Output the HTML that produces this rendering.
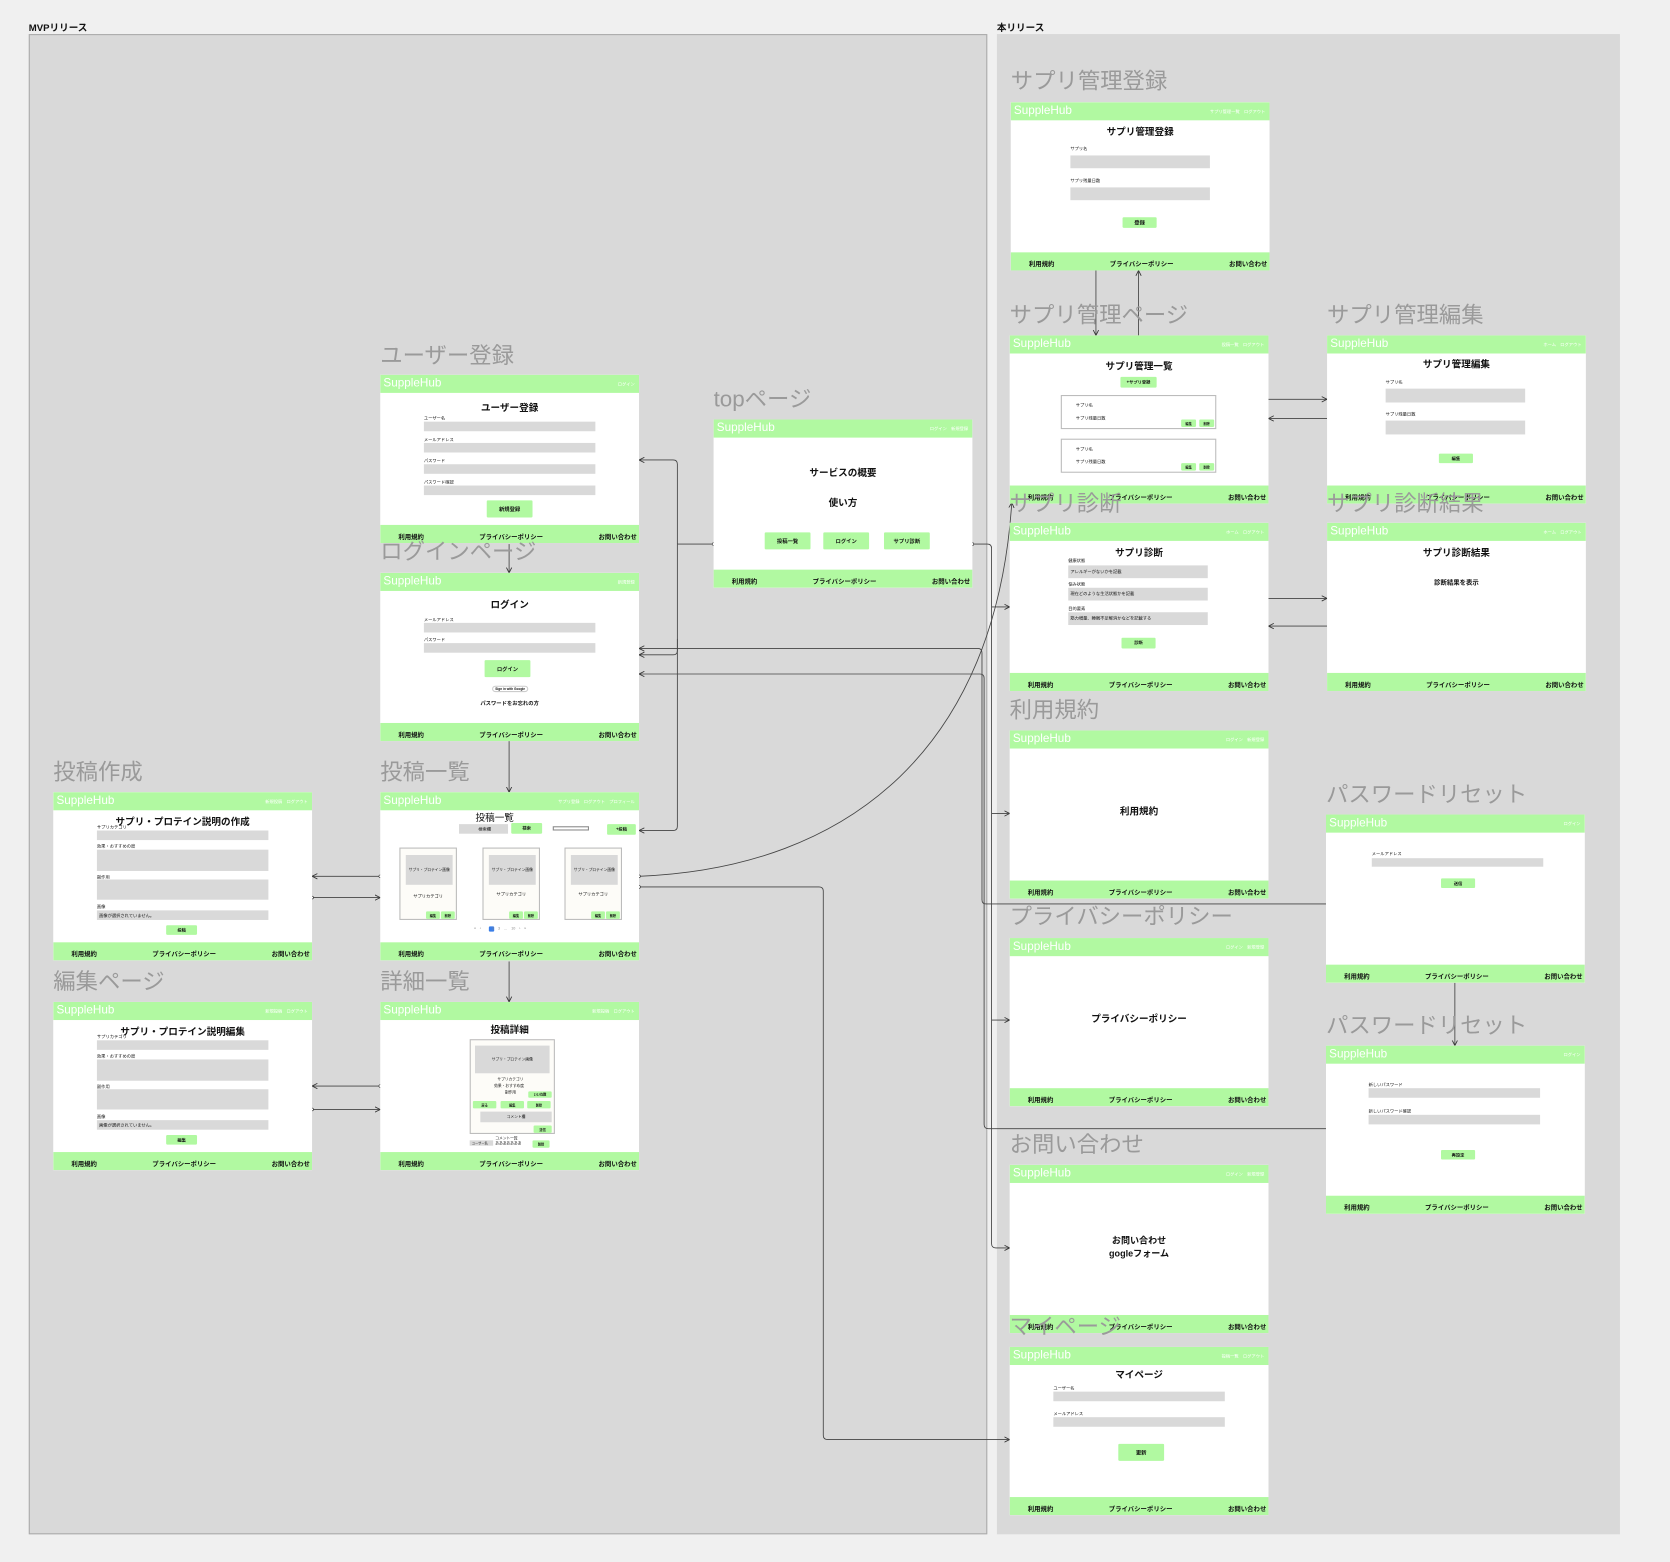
<!DOCTYPE html>
<html><head><meta charset="utf-8">
<style>
*{margin:0;padding:0;box-sizing:border-box}
html,body{width:1670px;height:1562px;overflow:hidden;background:#f0f0f0;font-family:"Liberation Sans","Noto Sans CJK JP",sans-serif;color:#111}
#w{position:absolute;left:0;top:0;width:1568px;height:1467px;transform:scale(1.06505,1.06476);transform-origin:0 0}
.p{position:absolute;background:#d9d9d9}
.pl{position:absolute;font-size:9px;font-weight:bold}
.tt{position:absolute;font-size:21px;line-height:22px;color:#9a9a9a;white-space:nowrap;z-index:5}
.c{position:absolute;width:243px;height:158px;background:#fff;overflow:hidden}
.h{position:absolute;left:0;top:0;width:100%;height:17px;background:#b1f9a1}
.h b{position:absolute;left:3px;top:2px;font-size:11px;line-height:12px;color:#fff;font-weight:normal}
.h i{position:absolute;right:4px;top:6px;font-size:4px;color:#fff;font-style:normal;white-space:nowrap}
.f{position:absolute;left:0;bottom:0;width:100%;height:17px;background:#b1f9a1;font-size:6px;font-weight:bold}
.f span{position:absolute;top:6px;white-space:nowrap}
.f .a{left:17px}.f .b{left:93px}.f .d{right:2px}
.t{position:absolute;left:0;width:100%;text-align:center;font-size:9px;font-weight:bold;white-space:nowrap}
.l{position:absolute;font-size:4px;white-space:nowrap}
.in{position:absolute;background:#d9d9d9;font-size:4px;padding-left:2px;display:flex;align-items:center}
.bt{position:absolute;background:#b1f9a1;font-size:5px;font-weight:bold;display:flex;align-items:center;justify-content:center;border-radius:1px;white-space:nowrap}
.bx{position:absolute;border:1px solid #bbb;background:#fdfcf8}
</style></head><body><div id="w">

<div class="p" style="left:27px;top:32px;width:900px;height:1409px;border:1px solid #aaa"></div>
<div class="p" style="left:936px;top:32px;width:585px;height:1409px"></div>
<div class="pl" style="left:27px;top:19px">MVPリリース</div>
<div class="pl" style="left:936px;top:19px">本リリース</div>

<svg width="1568" height="1467" style="position:absolute;left:0;top:0" fill="none" stroke="#444" stroke-width="0.8">
<defs>
<marker id="a" markerWidth="6" markerHeight="6" refX="5" refY="3" orient="auto" markerUnits="userSpaceOnUse"><path d="M0,0.5 L5,3 L0,5.5" fill="none" stroke="#333" stroke-width="0.8"/></marker>
<marker id="o" markerWidth="4" markerHeight="4" refX="2" refY="2" markerUnits="userSpaceOnUse"><circle cx="2" cy="2" r="1.3" fill="#fff" stroke="#333" stroke-width="0.6"/></marker>
</defs>
<path d="M670,511 H636" marker-start="url(#o)"/>
<path d="M636,511 V436 Q636,432 632,432 H600" marker-end="url(#a)"/>
<path d="M636,511 V611 Q636,615 632,615 H600" marker-end="url(#a)"/>
<path d="M636,600 V776 Q636,780 632,780 H600" marker-end="url(#a)"/>
<path d="M913,511 H927 Q931,511 931,515 V1168 Q931,1172 935,1172 H948" marker-start="url(#o)" marker-end="url(#a)"/>
<path d="M931,570 H948" marker-end="url(#a)"/>
<path d="M931,764 H948" marker-end="url(#a)"/>
<path d="M931,958 H948" marker-end="url(#a)"/>
<path d="M1245,849 H926 Q922,849 922,845 V613 Q922,609 918,609 H600" marker-end="url(#a)"/>
<path d="M1245,1060 H928 Q924,1060 924,1056 V637 Q924,633 920,633 H600" marker-end="url(#a)"/>
<path d="M600,823 C800,815 935,700 950,472" marker-start="url(#o)" marker-end="url(#a)"/>
<path d="M600,833 H769 Q773,833 773,837 V1348 Q773,1352 777,1352 H948" marker-start="url(#o)" marker-end="url(#a)"/>
<path d="M478,511 V538" marker-end="url(#a)"/>
<path d="M478,696 V744" marker-end="url(#a)"/>
<path d="M478,903 V941" marker-end="url(#a)"/>
<path d="M357,823 H293" marker-start="url(#o)" marker-end="url(#a)"/>
<path d="M293,843 H357" marker-start="url(#o)" marker-end="url(#a)"/>
<path d="M357,1020 H293" marker-start="url(#o)" marker-end="url(#a)"/>
<path d="M293,1042 H357" marker-start="url(#o)" marker-end="url(#a)"/>
<path d="M1029,254 V315" marker-end="url(#a)"/>
<path d="M1069,315 V254" marker-end="url(#a)"/>
<path d="M1191,375 H1246" marker-end="url(#a)"/>
<path d="M1246,393 H1191" marker-end="url(#a)"/>
<path d="M1191,562 H1246" marker-end="url(#a)"/>
<path d="M1246,588 H1191" marker-end="url(#a)"/>
<path d="M1366,923 V982" marker-end="url(#a)"/>
</svg>

<!-- サプリ管理登録 -->
<div class="c" style="left:949px;top:96px">
<div class="h"><b>SuppleHub</b><i>サプリ管理一覧　ログアウト</i></div>
<div class="t" style="top:21px">サプリ管理登録</div>
<div class="l" style="left:56px;top:41px">サプリ名</div><div class="in" style="left:56px;top:50px;width:131px;height:12px"></div>
<div class="l" style="left:56px;top:71px">サプリ残量日数</div><div class="in" style="left:56px;top:80px;width:131px;height:12px"></div>
<div class="bt" style="left:105px;top:108px;width:32px;height:10px">登録</div>
<div class="f"><span class="a">利用規約</span><span class="b">プライバシーポリシー</span><span class="d">お問い合わせ</span></div></div>

<!-- サプリ管理ページ -->
<div class="c" style="left:948px;top:315px">
<div class="h"><b>SuppleHub</b><i>投稿一覧　ログアウト</i></div>
<div class="t" style="top:22px">サプリ管理一覧</div>
<div class="bt" style="left:104px;top:39px;width:34px;height:10px;font-size:4px">+サプリ登録</div>
<div class="bx" style="left:48px;top:56px;width:146px;height:32px;background:#fff"><div class="l" style="left:13px;top:6px">サプリ名</div><div class="l" style="left:13px;top:18px">サプリ残量日数</div><div class="bt" style="left:112px;top:22px;width:14px;height:7px;font-size:3px">編集</div><div class="bt" style="left:129px;top:22px;width:14px;height:7px;font-size:3px">削除</div></div>
<div class="bx" style="left:48px;top:97px;width:146px;height:32px;background:#fff"><div class="l" style="left:13px;top:6px">サプリ名</div><div class="l" style="left:13px;top:18px">サプリ残量日数</div><div class="bt" style="left:112px;top:22px;width:14px;height:7px;font-size:3px">編集</div><div class="bt" style="left:129px;top:22px;width:14px;height:7px;font-size:3px">削除</div></div>
<div class="f"><span class="a">利用規約</span><span class="b">プライバシーポリシー</span><span class="d">お問い合わせ</span></div></div>

<!-- サプリ管理編集 -->
<div class="c" style="left:1246px;top:315px">
<div class="h"><b>SuppleHub</b><i>ホーム　ログアウト</i></div>
<div class="t" style="top:20px">サプリ管理編集</div>
<div class="l" style="left:55px;top:41px">サプリ名</div><div class="in" style="left:55px;top:50px;width:131px;height:13px"></div>
<div class="l" style="left:55px;top:71px">サプリ残量日数</div><div class="in" style="left:55px;top:80px;width:131px;height:13px"></div>
<div class="bt" style="left:105px;top:111px;width:32px;height:9px;font-size:4px">編集</div>
<div class="f"><span class="a">利用規約</span><span class="b">プライバシーポリシー</span><span class="d">お問い合わせ</span></div></div>

<!-- サプリ診断 -->
<div class="c" style="left:948px;top:491px">
<div class="h"><b>SuppleHub</b><i>ホーム　ログアウト</i></div>
<div class="t" style="top:21px">サプリ診断</div>
<div class="l" style="left:55px;top:33px">健康状態</div><div class="in" style="left:55px;top:40px;width:131px;height:12px">アレルギーがないかを記載</div>
<div class="l" style="left:55px;top:55px">悩み状態</div><div class="in" style="left:55px;top:61px;width:131px;height:12px">現在どのような生活状態かを記載</div>
<div class="l" style="left:55px;top:78px">目的要素</div><div class="in" style="left:55px;top:84px;width:131px;height:12px">筋力増量、睡眠不足解消かなどを記載する</div>
<div class="bt" style="left:105px;top:108px;width:32px;height:10px;font-size:4px">診断</div>
<div class="f"><span class="a">利用規約</span><span class="b">プライバシーポリシー</span><span class="d">お問い合わせ</span></div></div>

<!-- サプリ診断結果 -->
<div class="c" style="left:1246px;top:491px">
<div class="h"><b>SuppleHub</b><i>ホーム　ログアウト</i></div>
<div class="t" style="top:21px">サプリ診断結果</div>
<div class="t" style="top:51px;font-size:6px">診断結果を表示</div>
<div class="f"><span class="a">利用規約</span><span class="b">プライバシーポリシー</span><span class="d">お問い合わせ</span></div></div>

<!-- 利用規約 -->
<div class="c" style="left:948px;top:686px">
<div class="h"><b>SuppleHub</b><i>ログイン　新規登録</i></div>
<div class="t" style="top:69px">利用規約</div>
<div class="f"><span class="a">利用規約</span><span class="b">プライバシーポリシー</span><span class="d">お問い合わせ</span></div></div>

<!-- パスワードリセット1 -->
<div class="c" style="left:1245px;top:765px">
<div class="h"><b>SuppleHub</b><i>ログイン</i></div>
<div class="l" style="left:43px;top:34px">メールアドレス</div><div class="in" style="left:43px;top:41px;width:161px;height:8px"></div>
<div class="bt" style="left:108px;top:60px;width:32px;height:9px;font-size:4px">送信</div>
<div class="f"><span class="a">利用規約</span><span class="b">プライバシーポリシー</span><span class="d">お問い合わせ</span></div></div>

<!-- プライバシー -->
<div class="c" style="left:948px;top:881px">
<div class="h"><b>SuppleHub</b><i>ログイン　新規登録</i></div>
<div class="t" style="top:69px">プライバシーポリシー</div>
<div class="f"><span class="a">利用規約</span><span class="b">プライバシーポリシー</span><span class="d">お問い合わせ</span></div></div>

<!-- パスワードリセット2 -->
<div class="c" style="left:1245px;top:982px">
<div class="h"><b>SuppleHub</b><i>ログイン</i></div>
<div class="l" style="left:40px;top:34px">新しいパスワード</div><div class="in" style="left:40px;top:40px;width:161px;height:9px"></div>
<div class="l" style="left:40px;top:59px">新しいパスワード確認</div><div class="in" style="left:40px;top:65px;width:161px;height:9px"></div>
<div class="bt" style="left:108px;top:98px;width:32px;height:9px;font-size:4px">再設定</div>
<div class="f"><span class="a">利用規約</span><span class="b">プライバシーポリシー</span><span class="d">お問い合わせ</span></div></div>

<!-- お問い合わせ -->
<div class="c" style="left:948px;top:1094px">
<div class="h"><b>SuppleHub</b><i>ログイン　新規登録</i></div>
<div class="t" style="top:65px;font-size:8.5px;line-height:12px">お問い合わせ<br>gogleフォーム</div>
<div class="f"><span class="a">利用規約</span><span class="b">プライバシーポリシー</span><span class="d">お問い合わせ</span></div></div>

<!-- マイページ -->
<div class="c" style="left:948px;top:1265px">
<div class="h"><b>SuppleHub</b><i>投稿一覧　ログアウト</i></div>
<div class="t" style="top:19px">マイページ</div>
<div class="l" style="left:41px;top:36px">ユーザー名</div><div class="in" style="left:41px;top:42px;width:161px;height:9px"></div>
<div class="l" style="left:41px;top:60px">メールアドレス</div><div class="in" style="left:41px;top:66px;width:161px;height:9px"></div>
<div class="bt" style="left:102px;top:91px;width:43px;height:16px">更新</div>
<div class="f"><span class="a">利用規約</span><span class="b">プライバシーポリシー</span><span class="d">お問い合わせ</span></div></div>

<!-- ユーザー登録 -->
<div class="c" style="left:357px;top:352px">
<div class="h"><b>SuppleHub</b><i>ログイン</i></div>
<div class="t" style="top:24px">ユーザー登録</div>
<div class="l" style="left:41px;top:38px">ユーザー名</div><div class="in" style="left:41px;top:44px;width:161px;height:9px"></div>
<div class="l" style="left:41px;top:58px">メールアドレス</div><div class="in" style="left:41px;top:64px;width:161px;height:9px"></div>
<div class="l" style="left:41px;top:78px">パスワード</div><div class="in" style="left:41px;top:84px;width:161px;height:9px"></div>
<div class="l" style="left:41px;top:98px">パスワード確認</div><div class="in" style="left:41px;top:104px;width:161px;height:9px"></div>
<div class="bt" style="left:100px;top:118px;width:43px;height:16px">新規登録</div>
<div class="f"><span class="a">利用規約</span><span class="b">プライバシーポリシー</span><span class="d">お問い合わせ</span></div></div>

<!-- top -->
<div class="c" style="left:670px;top:394px">
<div class="h"><b>SuppleHub</b><i>ログイン　新規登録</i></div>
<div class="t" style="top:43px">サービスの概要</div>
<div class="t" style="top:71px">使い方</div>
<div class="bt" style="left:48px;top:106px;width:43px;height:16px">投稿一覧</div>
<div class="bt" style="left:103px;top:106px;width:43px;height:16px">ログイン</div>
<div class="bt" style="left:160px;top:106px;width:43px;height:16px">サプリ診断</div>
<div class="f"><span class="a">利用規約</span><span class="b">プライバシーポリシー</span><span class="d">お問い合わせ</span></div></div>

<!-- ログイン -->
<div class="c" style="left:357px;top:538px">
<div class="h"><b>SuppleHub</b><i>新規登録</i></div>
<div class="t" style="top:23px">ログイン</div>
<div class="l" style="left:41px;top:41px">メールアドレス</div><div class="in" style="left:41px;top:47px;width:161px;height:9px"></div>
<div class="l" style="left:41px;top:60px">パスワード</div><div class="in" style="left:41px;top:66px;width:161px;height:9px"></div>
<div class="bt" style="left:98px;top:82px;width:43px;height:16px">ログイン</div>
<div class="bt" style="left:105px;top:106px;width:34px;height:6px;font-size:3px;background:#fff;border:1px solid #ccc;border-radius:3px">Sign in with Google</div>
<div class="t" style="top:119px;font-size:5px">パスワードをお忘れの方</div>
<div class="f"><span class="a">利用規約</span><span class="b">プライバシーポリシー</span><span class="d">お問い合わせ</span></div></div>

<!-- 投稿作成 -->
<div class="c" style="left:50px;top:744px">
<div class="h"><b>SuppleHub</b><i>新規投稿　ログアウト</i></div>
<div class="t" style="top:21px">サプリ・プロテイン説明の作成</div>
<div class="l" style="left:41px;top:30px">サプリカテゴリ</div><div class="in" style="left:41px;top:36px;width:161px;height:9px"></div>
<div class="l" style="left:41px;top:48px">効果・おすすめの度</div><div class="in" style="left:41px;top:54px;width:161px;height:20px"></div>
<div class="l" style="left:41px;top:77px">副作用</div><div class="in" style="left:41px;top:82px;width:161px;height:19px"></div>
<div class="l" style="left:41px;top:105px">画像</div><div class="in" style="left:41px;top:111px;width:161px;height:9px">画像が選択されていません。</div>
<div class="bt" style="left:106px;top:125px;width:29px;height:9px;font-size:4px">投稿</div>
<div class="f"><span class="a">利用規約</span><span class="b">プライバシーポリシー</span><span class="d">お問い合わせ</span></div></div>

<!-- 投稿一覧 -->
<div class="c" style="left:357px;top:744px">
<div class="h"><b>SuppleHub</b><i>サプリ登録　ログアウト　プロフィール</i></div>
<div class="t" style="top:17px;left:-14px;font-weight:normal">投稿一覧</div>
<div class="in" style="left:74px;top:30px;width:46px;height:9px;justify-content:center">検索欄</div>
<div class="bt" style="left:123px;top:29px;width:29px;height:10px;font-size:4px">検索</div>
<div style="position:absolute;left:162px;top:32px;width:34px;height:4px;border:1px solid #888;background:#fff"></div>
<div class="bt" style="left:213px;top:30px;width:27px;height:10px;font-size:4px">+投稿</div>
<div class="bx" style="left:18px;top:52px;width:54px;height:68px"><div class="in" style="left:5px;top:6px;width:44px;height:28px;font-size:3.5px;justify-content:center;padding:0">サプリ・プロテイン画像</div><div class="l" style="left:12px;top:42px">サプリカテゴリ</div><div class="bt" style="left:24px;top:59px;width:13px;height:7px;font-size:3px">編集</div><div class="bt" style="left:38px;top:59px;width:13px;height:7px;font-size:3px">削除</div></div>
<div class="bx" style="left:96px;top:52px;width:54px;height:68px"><div class="in" style="left:5px;top:6px;width:44px;height:28px;font-size:3.5px;justify-content:center;padding:0">サプリ・プロテイン画像</div><div class="l" style="left:12px;top:40px">サプリカテゴリ</div><div class="bt" style="left:24px;top:59px;width:13px;height:7px;font-size:3px">編集</div><div class="bt" style="left:38px;top:59px;width:13px;height:7px;font-size:3px">削除</div></div>
<div class="bx" style="left:173px;top:52px;width:54px;height:68px"><div class="in" style="left:5px;top:6px;width:44px;height:28px;font-size:3.5px;justify-content:center;padding:0">サプリ・プロテイン画像</div><div class="l" style="left:12px;top:40px">サプリカテゴリ</div><div class="bt" style="left:24px;top:59px;width:13px;height:7px;font-size:3px">編集</div><div class="bt" style="left:38px;top:59px;width:13px;height:7px;font-size:3px">削除</div></div>
<div style="position:absolute;left:102px;top:126px;width:5px;height:5px;background:#3a7ee8;border-radius:1px"></div>
<div class="l" style="left:88px;top:126px;color:#888;font-size:3.5px">«　‹　　　2　3　…　10　›　»</div>
<div class="f"><span class="a">利用規約</span><span class="b">プライバシーポリシー</span><span class="d">お問い合わせ</span></div></div>

<!-- 編集ページ -->
<div class="c" style="left:50px;top:941px">
<div class="h"><b>SuppleHub</b><i>新規投稿　ログアウト</i></div>
<div class="t" style="top:21px">サプリ・プロテイン説明編集</div>
<div class="l" style="left:41px;top:30px">サプリカテゴリ</div><div class="in" style="left:41px;top:36px;width:161px;height:9px"></div>
<div class="l" style="left:41px;top:48px">効果・おすすめの度</div><div class="in" style="left:41px;top:54px;width:161px;height:20px"></div>
<div class="l" style="left:41px;top:77px">副作用</div><div class="in" style="left:41px;top:82px;width:161px;height:19px"></div>
<div class="l" style="left:41px;top:105px">画像</div><div class="in" style="left:41px;top:111px;width:161px;height:9px">画像が選択されていません。</div>
<div class="bt" style="left:106px;top:125px;width:29px;height:9px;font-size:4px">編集</div>
<div class="f"><span class="a">利用規約</span><span class="b">プライバシーポリシー</span><span class="d">お問い合わせ</span></div></div>

<!-- 詳細 -->
<div class="c" style="left:357px;top:941px">
<div class="h"><b>SuppleHub</b><i>新規投稿　ログアウト</i></div>
<div class="t" style="top:19px">投稿詳細</div>
<div class="bx" style="left:84px;top:35px;width:80px;height:89px">
<div class="in" style="left:4px;top:5px;width:70px;height:26px;font-size:3.5px;justify-content:center;padding:0">サプリ・プロテイン画像</div>
<div class="l" style="left:25px;top:35px;font-size:3.5px">サプリカテゴリ</div>
<div class="l" style="left:22px;top:41px;font-size:3.5px">効果・おすすめ度</div>
<div class="l" style="left:32px;top:47px;font-size:3.5px">副作用</div>
<div class="bt" style="left:54px;top:48px;width:22px;height:6px;font-size:3px">いいね数</div>
<div class="bt" style="left:2px;top:57px;width:22px;height:7px;font-size:3px">戻る</div>
<div class="bt" style="left:28px;top:57px;width:22px;height:7px;font-size:3px">編集</div>
<div class="bt" style="left:53px;top:57px;width:22px;height:7px;font-size:3px">削除</div>
<div class="in" style="left:9px;top:67px;width:67px;height:10px;font-size:3.5px;justify-content:center;padding:0">コメント欄</div>
<div class="bt" style="left:59px;top:80px;width:17px;height:7px;font-size:3px">送信</div>
</div>
<div class="in" style="left:84px;top:130px;width:22px;height:5px;font-size:3px">ユーザー名</div>
<div class="l" style="left:108px;top:126px;font-size:3.5px;line-height:5px">コメント一覧<br>あああああああ</div>
<div class="bt" style="left:143px;top:130px;width:16px;height:7px;font-size:3px">削除</div>
<div class="f"><span class="a">利用規約</span><span class="b">プライバシーポリシー</span><span class="d">お問い合わせ</span></div></div>

<!-- titles (on top of cards) -->
<div class="tt" style="left:949px;top:66px">サプリ管理登録</div>
<div class="tt" style="left:948px;top:286px">サプリ管理ページ</div>
<div class="tt" style="left:1246px;top:286px">サプリ管理編集</div>
<div class="tt" style="left:948px;top:463px">サプリ診断</div>
<div class="tt" style="left:1246px;top:463px">サプリ診断結果</div>
<div class="tt" style="left:948px;top:657px">利用規約</div>
<div class="tt" style="left:1245px;top:736px">パスワードリセット</div>
<div class="tt" style="left:948px;top:851px">プライバシーポリシー</div>
<div class="tt" style="left:1245px;top:953px">パスワードリセット</div>
<div class="tt" style="left:948px;top:1065px">お問い合わせ</div>
<div class="tt" style="left:948px;top:1236px">マイページ</div>
<div class="tt" style="left:357px;top:324px">ユーザー登録</div>
<div class="tt" style="left:670px;top:365px">topページ</div>
<div class="tt" style="left:357px;top:508px">ログインページ</div>
<div class="tt" style="left:50px;top:715px">投稿作成</div>
<div class="tt" style="left:357px;top:715px">投稿一覧</div>
<div class="tt" style="left:50px;top:912px">編集ページ</div>
<div class="tt" style="left:357px;top:912px">詳細一覧</div>

</div></body></html>
